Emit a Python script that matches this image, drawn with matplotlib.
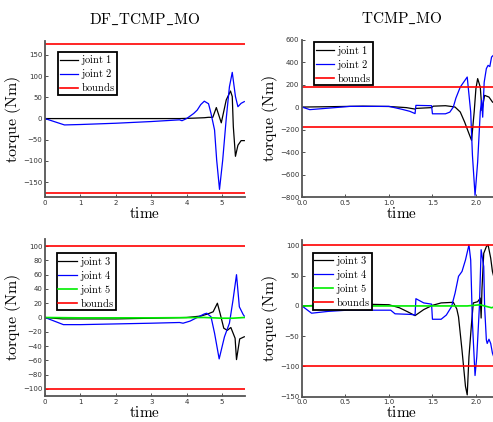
import matplotlib
matplotlib.use("Agg")
import matplotlib.pyplot as plt

plt.rcParams['mathtext.fontset'] = 'cm'

# DF_TCMP_MO, joints 1-2
df_j1_t = [0, 0.5, 1, 2, 3, 3.8, 4.2, 4.5, 4.62, 4.74, 4.84, 4.98, 5.12, 5.24, 5.29, 5.32, 5.38, 5.45, 5.54, 5.63]
df_j1 = [0, 0, 0, 0, 0, 0, 1, 2, 3, 3, 26, -10, 44, 65, 52, -19, -89, -63, -52, -52]
df_j2_t = [0, 0.55, 1, 2, 3, 3.8, 3.87, 4.0, 4.2, 4.3, 4.4, 4.5, 4.62, 4.69, 4.79, 4.85, 4.93,
           5.02, 5.12, 5.21, 5.29, 5.38, 5.45, 5.54, 5.63]
df_j2 = [0, -15, -14, -11, -7, -3, -5, 0, 12, 20, 33, 41, 35, 12, -27, -98, -167,
         -98, 0, 75, 109, 52, 28, 36, 40]

# TCMP_MO, joints 1-2
tc_j1_t = [0, 0.3, 0.7, 1.0, 1.2, 1.3, 1.31, 1.49, 1.51, 1.65, 1.72, 1.76, 1.82, 1.87, 1.92, 1.95,
           1.98, 2.0, 2.02, 2.05, 2.07, 2.10, 2.15, 2.19, 2.22]
tc_j1 = [0, 3, 8, 5, -5, -18, -12, -5, 8, 12, 5, 0, -44, -133, -236, -296,
         -44, 164, 253, 178, -30, 104, 89, 45, 30]
tc_j2_t = [0, 0.09, 0.3, 0.55, 1.0, 1.15, 1.24, 1.3, 1.31, 1.49, 1.5, 1.65, 1.7, 1.74, 1.77, 1.82,
           1.90, 1.94, 1.96, 1.99, 2.02, 2.05, 2.065, 2.078, 2.095, 2.12, 2.14, 2.16, 2.18, 2.2, 2.22]
tc_j2 = [0, -23, -10, 6, 6, -20, -38, -58, 15, 12, -60, -60, -45, 0, 80, 178,
         267, -44, -429, -785, -489, -44, 60, -90, 220, 342, 371, 360, 445, 460, 480]

# DF_TCMP_MO, joints 3-5
df_j3_t = [0, 0.5, 2, 3, 4, 4.4, 4.6, 4.75, 4.87, 4.95, 5.05, 5.15, 5.25, 5.37, 5.41, 5.5, 5.63]
df_j3 = [0, -2, -2, -1, 0, 2, 5, 8, 20, 5, -15, -18, -14, -29, -59, -30, -27]
df_j4_t = [0, 0.52, 1, 2, 3, 3.8, 3.9, 4.1, 4.3, 4.5, 4.57, 4.69, 4.79, 4.92, 5.07, 5.21, 5.31,
           5.41, 5.49, 5.6, 5.63]
df_j4 = [0, -10, -10, -9, -8, -7, -8, -5, 0, 5, 6, 1, -22, -58, -27, -8, 24, 60, 15, 4, 2]
df_j5_t = [0, 1, 3, 4.5, 5.0, 5.3, 5.63]
df_j5 = [0, -0.5, -0.5, 0, -1, -1, 0]

# TCMP_MO, joints 3-5
tc_j3_t = [0, 0.3, 0.7, 1.0, 1.12, 1.22, 1.3, 1.4, 1.5, 1.6, 1.74, 1.78, 1.80, 1.84, 1.88, 1.90,
           1.92, 1.95, 1.97, 2.02, 2.05, 2.06, 2.07, 2.09, 2.12, 2.14, 2.17, 2.19, 2.22]
tc_j3 = [0, 2, 3, 2, -3, -10, -16, -6, 1, 5, 6, -5, -18, -73, -133, -147,
         -84, -28, 5, 7, 13, -20, 29, 87, 98, 101, 79, 57, 40]
tc_j4_t = [0, 0.11, 0.3, 0.52, 1.02, 1.07, 1.25, 1.3, 1.31, 1.4, 1.49, 1.5, 1.6, 1.66, 1.72, 1.76,
           1.80, 1.84, 1.88, 1.92, 1.94, 1.96, 1.99, 2.01, 2.04, 2.06, 2.09, 2.10, 2.12, 2.13,
           2.15, 2.17, 2.19, 2.22]
tc_j4 = [0, -12, -9, -7, -7, -13, -14, -15, 12, 5, 3, -22, -22, -15, -1, 21,
         49, 57, 76, 101, 76, -28, -115, -84, -1, 93, 65, -1, -56, -62,
         -55, -62, -78, -90]
tc_j5_t = [0, 1, 1.9, 2.05, 2.1, 2.18, 2.22]
tc_j5 = [0, 0, 0, 2, 0, -3, -1]

bounds_12 = 176
bounds_345 = 100


def m(s):
    return r'$\mathrm{' + s.replace(' ', r'\ ').replace('_', r'\_') + '}$'


def style(ax, xlim, ylim, yticks, xticks):
    ax.set_xlim(*xlim)
    ax.set_ylim(*ylim)
    ax.set_yticks(yticks)
    ax.set_xticks(xticks)
    ax.tick_params(direction='in', length=2.5, width=0.6, labelsize=5, labelcolor='#333333',
                   colors='#333333', pad=2)
    for s in ['top', 'right']:
        ax.spines[s].set_visible(False)
    for s in ['left', 'bottom']:
        ax.spines[s].set_color('#555555')
        ax.spines[s].set_linewidth(1.3)
    ax.set_xlabel(m('time'), fontsize=11, labelpad=0)
    ax.set_ylabel(m('torque (Nm)'), fontsize=11.5, labelpad=0)


def legend(ax, x, y):
    leg = ax.legend(loc='upper left', bbox_to_anchor=(x, y), fontsize=7.5, fancybox=False,
                    framealpha=1, edgecolor='k', handlelength=1.8, handletextpad=0.3,
                    labelspacing=0.0, borderpad=0.15, borderaxespad=0)
    leg.get_frame().set_linewidth(1.3)


fig = plt.figure(figsize=(4.93, 4.22), dpi=100)
w = 200 / 493
ax1 = fig.add_axes([45 / 493, 1 - 197 / 422, w, 156 / 422])
ax2 = fig.add_axes([302 / 493, 1 - 197 / 422, w, 157.4 / 422])
ax3 = fig.add_axes([45 / 493, 1 - 396 / 422, w, 157 / 422])
ax4 = fig.add_axes([302 / 493, 1 - 396.7 / 422, w, 156.7 / 422])

# top left
ax1.plot(df_j1_t, df_j1, color='k', lw=0.9, label=m('joint 1'))
ax1.plot(df_j2_t, df_j2, color='b', lw=0.9, label=m('joint 2'))
ax1.axhline(bounds_12, color='r', lw=1.2, label=m('bounds'))
ax1.axhline(-bounds_12, color='r', lw=1.2)
style(ax1, (0, 5.65), (-185, 183), range(-150, 151, 50), range(0, 6))
legend(ax1, 0.065, 0.93)
ax1.set_title(m('DF_TCMP_MO'), fontsize=11, pad=12)

# top right
ax2.plot(tc_j1_t, tc_j1, color='k', lw=0.9, label=m('joint 1'))
ax2.plot(tc_j2_t, tc_j2, color='b', lw=0.9, label=m('joint 2'))
ax2.axhline(bounds_12, color='r', lw=1.2, label=m('bounds'))
ax2.axhline(-bounds_12, color='r', lw=1.2)
style(ax2, (0, 2.3), (-800, 600), range(-800, 601, 200), [0, 0.5, 1, 1.5, 2])
legend(ax2, 0.06, 0.985)
ax2.set_title(m('TCMP_MO'), fontsize=11, pad=12)

# bottom left
ax3.plot(df_j3_t, df_j3, color='k', lw=0.9, label=m('joint 3'))
ax3.plot(df_j4_t, df_j4, color='b', lw=0.9, label=m('joint 4'))
ax3.plot(df_j5_t, df_j5, color='#00ee00', lw=1.2, label=m('joint 5'))
ax3.axhline(bounds_345, color='r', lw=1.2, label=m('bounds'))
ax3.axhline(-bounds_345, color='r', lw=1.2)
style(ax3, (0, 5.65), (-110, 110), range(-100, 101, 20), range(0, 6))
legend(ax3, 0.058, 0.91)

# bottom right
ax4.plot(tc_j3_t, tc_j3, color='k', lw=0.9, label=m('joint 3'))
ax4.plot(tc_j4_t, tc_j4, color='b', lw=0.9, label=m('joint 4'))
ax4.plot(tc_j5_t, tc_j5, color='#00ee00', lw=1.2, label=m('joint 5'))
ax4.axhline(bounds_345, color='r', lw=1.2, label=m('bounds'))
ax4.axhline(-bounds_345, color='r', lw=1.2)
style(ax4, (0, 2.3), (-150, 109), range(-150, 101, 50), [0, 0.5, 1, 1.5, 2])
legend(ax4, 0.053, 0.92)

fig.savefig('out.png', dpi=100)
